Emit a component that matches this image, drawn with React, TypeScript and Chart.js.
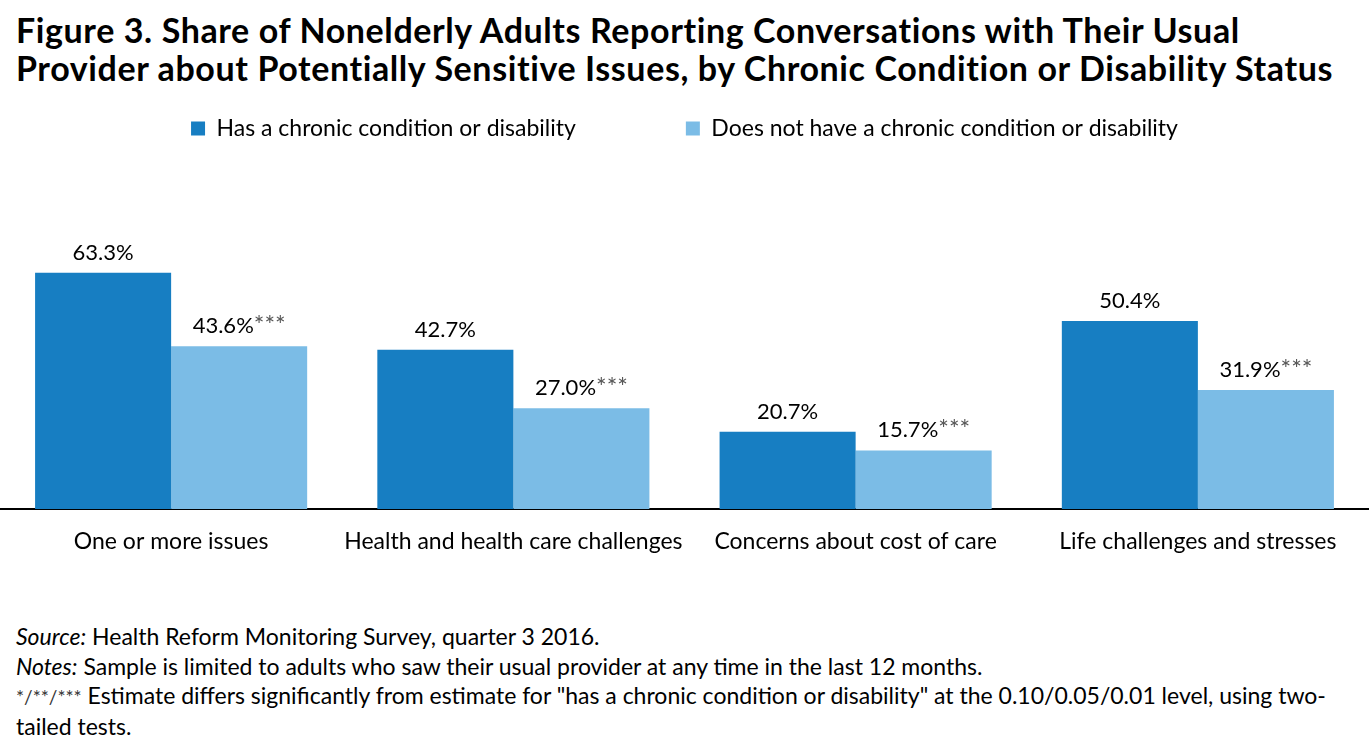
import React, { useEffect, useRef } from "react";
import { Chart, registerables } from "chart.js";

Chart.register(...registerables);

const categories = [
  "One or more issues",
  "Health and health care challenges",
  "Concerns about cost of care",
  "Life challenges and stresses",
];
const seriesNames = [
  "Has a chronic condition or disability",
  "Does not have a chronic condition or disability",
];
const chronicValues = [63.3, 42.7, 20.7, 50.4];
const noChronicValues = [43.6, 27.0, 15.7, 31.9];
const chronicSig = ["", "", "", ""];
const noChronicSig = ["***", "***", "***", "***"];
const colors = ["#177EC2", "#7BBCE6"];

const FONT = "Lato, 'Open Sans', sans-serif";

const labelPlugin = {
  id: "barLabels",
  afterDatasetsDraw(chart: any) {
    const ctx = chart.ctx;
    const sigs = [chronicSig, noChronicSig];
    chart.data.datasets.forEach((ds: any, di: number) => {
      const meta = chart.getDatasetMeta(di);
      meta.data.forEach((el: any, i: number) => {
        const val = Number(ds.data[i]).toFixed(1) + "%";
        const sig = sigs[di][i];
        ctx.save();
        ctx.textBaseline = "alphabetic";
        ctx.textAlign = "left";
        ctx.font = `22px ${FONT}`;
        const w1 = ctx.measureText(val).width;
        ctx.font = `25px ${FONT}`;
        const w2 = sig ? ctx.measureText(sig).width : 0;
        const total = w1 + w2;
        const x0 = el.x - total / 2;
        const yb = el.y - 13;
        ctx.fillStyle = "#000";
        ctx.font = `22px ${FONT}`;
        ctx.fillText(val, x0, yb);
        if (sig) {
          ctx.fillStyle = "#555";
          ctx.font = `25px ${FONT}`;
          ctx.fillText(sig, x0 + w1, yb + 1);
        }
        ctx.restore();
      });
    });
  },
};

export default function App() {
  const ref = useRef<HTMLCanvasElement | null>(null);
  useEffect(() => {
    document.body.style.margin = "0";
    const chart = new Chart(ref.current!, {
      type: "bar",
      data: {
        labels: categories,
        datasets: [
          {
            label: seriesNames[0],
            data: chronicValues,
            backgroundColor: colors[0],
            categoryPercentage: 0.795,
            barPercentage: 1.0,
          },
          {
            label: seriesNames[1],
            data: noChronicValues,
            backgroundColor: colors[1],
            categoryPercentage: 0.795,
            barPercentage: 1.0,
          },
        ],
      },
      options: {
        responsive: false,
        animation: false,
        devicePixelRatio: 1,
        layout: { padding: { top: 7, bottom: 3, left: 0, right: 0 } },
        plugins: {
          title: { display: false },
          tooltip: { enabled: false },
          legend: {
            display: true,
            position: "top",
            align: "center",
            labels: {
              boxWidth: 14,
              boxHeight: 14,
              padding: 110,
              color: "#000",
              font: { family: FONT, size: 23 },
            },
          },
        },
        scales: {
          x: {
            grid: { display: false, drawTicks: false },
            border: { display: true, color: "#000", width: 2 },
            ticks: {
              color: "#000",
              padding: 19,
              font: { family: FONT, size: 23 },
              maxRotation: 0,
              autoSkip: false,
            },
            afterFit: (scale: any) => {
              scale.height = 48;
            },
          },
          y: {
            display: false,
            min: 0,
            max: 96.2,
            grid: { display: false },
          },
        },
      },
      plugins: [labelPlugin],
    });
    return () => chart.destroy();
  }, []);

  return (
    <div style={{ position: "relative", width: 1369, height: 749, background: "#fff", fontFamily: FONT, color: "#000" }}>
      <div
        style={{
          position: "absolute",
          left: 16,
          top: 11,
          fontSize: 34,
          fontWeight: 700,
          lineHeight: "38px",
          letterSpacing: "0.6px",
          whiteSpace: "nowrap",
        }}
      >
        Figure 3. Share of Nonelderly Adults Reporting Conversations with Their Usual
        <br />
        Provider about Potentially Sensitive Issues, by Chronic Condition or Disability Status
      </div>
      <canvas ref={ref} width={1369} height={560} style={{ position: "absolute", left: 0, top: 0 }} />
      <div
        style={{
          position: "absolute",
          left: 16,
          top: 622,
          fontSize: 23,
          lineHeight: "29.5px",
          whiteSpace: "nowrap",
        }}
      >
        <div>
          <i>Source:</i> Health Reform Monitoring Survey, quarter 3 2016.
        </div>
        <div>
          <i>Notes:</i> Sample is limited to adults who saw their usual provider at any time in the last 12 months.
        </div>
        <div>
          <span style={{ fontSize: 19, color: "#333" }}>*/**/***</span> Estimate differs significantly from estimate
          for "has a chronic condition or disability" at the 0.10/0.05/0.01 level, using two-
        </div>
        <div>tailed tests.</div>
      </div>
    </div>
  );
}
